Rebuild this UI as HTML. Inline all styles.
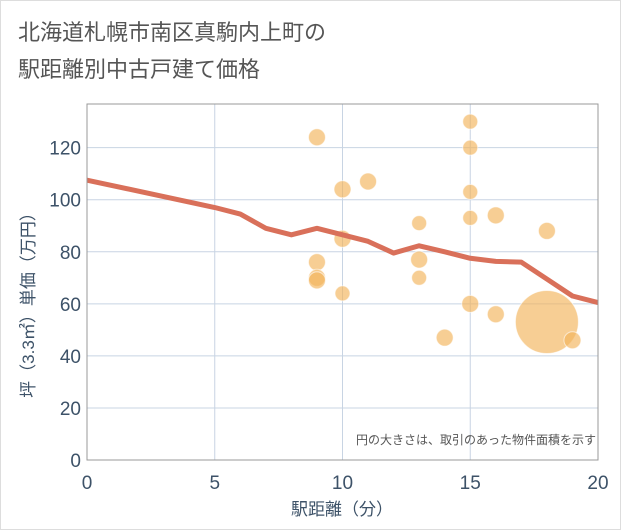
<!DOCTYPE html><html><head><meta charset="utf-8"><style>
body{margin:0;background:#fff;font-family:"Liberation Sans","Noto Sans CJK JP",sans-serif}
#c{position:relative;width:619px;height:528px;border:1px solid #ddd;background:#fff}
</style></head><body>
<div id="c">
<svg width="619" height="528" id="svg" style="position:absolute;left:0;top:0">
<text x="17" y="39" font-size="22" fill="#555">北海道札幌市南区真駒内上町の</text>
<text x="17" y="76" font-size="22" fill="#555">駅距離別中古戸建て価格</text>
<g id="grid"></g><g id="marks"></g><g id="axes"></g>
<text x="595" y="443" font-size="12" fill="#555" text-anchor="end">円の大きさは、取引のあった物件面積を示す</text>
<text x="341" y="514" font-size="17" fill="#3d5268" text-anchor="middle">駅距離（分）</text>
<text transform="translate(33,300) rotate(-90)" font-size="17" fill="#3d5268" text-anchor="middle">坪（3.3㎡）単価（万円）</text>
</svg></div>
<script>
const xTicks=[0,5,10,15,20];
const yTicks=[0,20,40,60,80,100,120];
const lineX=[0,5,6,7,8,9,10,11,12,13,14,15,16,17,18,19,20];
const lineY=[107.5,97,94.5,89,86.5,89,86.5,84,79.5,82.3,80,77.5,76.3,76,69.5,63,60.5];
const ptX=[9,9,9,9,10,10,10,11,13,13,13,14,15,15,15,15,15,16,16,18,18,19];
const ptY=[124,76,70,69,104,85,64,107,91,77,70,47,130,120,103,93,60,94,56,88,53,46];
const ptR=[8,8,8,8,8,8,7,8,7,8,7,8,7,7,7,7,8,8,8,8,31,8];
const L=86,R=597,T=103,B=459;
const sx=v=>L+v/20*(R-L), sy=v=>B-v*2.603;
const NS='http://www.w3.org/2000/svg';
function mk(p,t,a){const e=document.createElementNS(NS,t);for(const k in a)e.setAttribute(k,a[k]);document.getElementById(p).appendChild(e);return e;}
xTicks.forEach(v=>{const l=mk('grid','line',{x1:sx(v),x2:sx(v),y1:T,y2:B,stroke:'#c8d4e3'});


const t=mk('axes','text',{x:sx(v),y:488,'font-size':19,fill:'#3d5268','text-anchor':'middle'});t.textContent=v;

});
yTicks.forEach(v=>{const l=mk('grid','line',{x1:L,x2:R,y1:sy(v),y2:sy(v),stroke:'#c8d4e3'});


const t=mk('axes','text',{x:80,y:sy(v)+7,'font-size':19,fill:'#3d5268','text-anchor':'end'});t.textContent=v;

});
const fr=mk('axes','rect',{x:L,y:T,width:R-L,height:B-T,fill:'none',stroke:'#999'});


ptX.forEach((x,i)=>{const c=mk('marks','circle',{cx:sx(x),cy:sy(ptY[i]),r:ptR[i]+0.5,fill:'rgba(242,180,90,0.65)',stroke:'rgba(255,255,255,0.6)'});

});
const p=mk('marks','polyline',{points:lineX.map((x,i)=>sx(x)+','+sy(lineY[i])).join(' '),fill:'none',stroke:'#d9705a','stroke-width':5,'stroke-linejoin':'round'});


</script></body></html>
